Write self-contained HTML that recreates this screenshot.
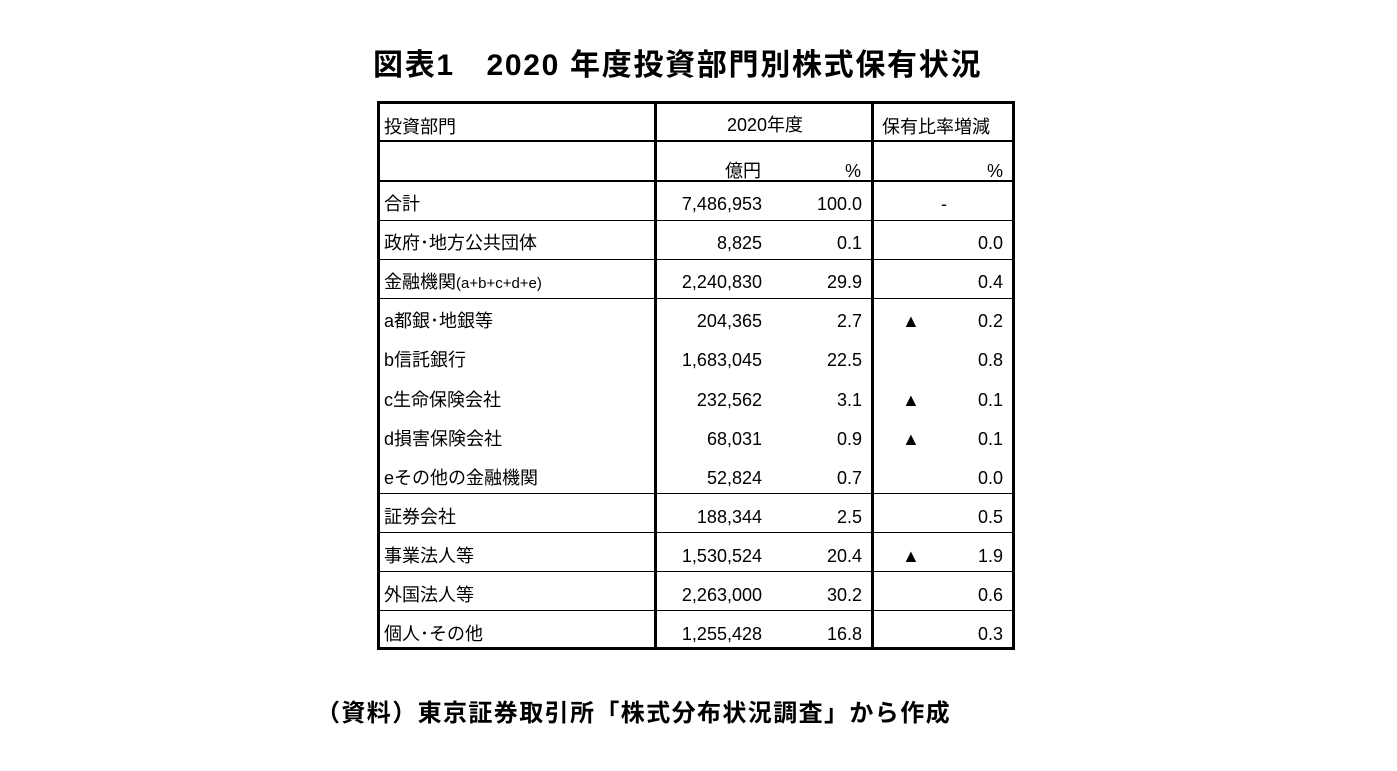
<!DOCTYPE html>
<html><head><meta charset="utf-8"><style>
body{margin:0;width:1397px;height:771px;background:#fff;position:relative;font-family:"Liberation Sans","Noto Sans CJK JP",sans-serif;color:#000;overflow:hidden}
.t{position:absolute;white-space:nowrap}
.h{position:absolute;background:#000}
.c{position:absolute;font-size:18px;white-space:nowrap;line-height:20px}
</style></head><body>
<div class="t" style="left:373px;top:40px;font-size:30px;font-weight:bold;letter-spacing:1.7px">図表1　2020 年度投資部門別株式保有状況</div>
<div class="t" style="left:316px;top:693px;font-size:24px;font-weight:bold;letter-spacing:1.4px">（資料）東京証券取引所「株式分布状況調査」から作成</div>

<div class="h" style="left:377px;top:101px;width:638px;height:3px"></div>
<div class="h" style="left:377px;top:647px;width:638px;height:3px"></div>
<div class="h" style="left:377px;top:101px;width:3px;height:549px"></div>
<div class="h" style="left:1012px;top:101px;width:3px;height:549px"></div>
<div class="h" style="left:654px;top:101px;width:3px;height:549px"></div>
<div class="h" style="left:871px;top:101px;width:3px;height:549px"></div>
<div class="h" style="left:377px;top:140px;width:638px;height:2px"></div>
<div class="h" style="left:377px;top:180px;width:638px;height:2px"></div>
<div class="h" style="left:377px;top:220px;width:638px;height:1px"></div>
<div class="h" style="left:377px;top:259px;width:638px;height:1px"></div>
<div class="h" style="left:377px;top:298px;width:638px;height:1px"></div>
<div class="h" style="left:377px;top:493px;width:638px;height:1px"></div>
<div class="h" style="left:377px;top:532px;width:638px;height:1px"></div>
<div class="h" style="left:377px;top:571px;width:638px;height:1px"></div>
<div class="h" style="left:377px;top:610px;width:638px;height:1px"></div>

<div class="c" style="left:384px;top:117px">投資部門</div>
<div class="c" style="left:727px;top:115px">2020年度</div>
<div class="c" style="left:882px;top:117px">保有比率増減</div>
<div class="c" style="left:725px;top:161px">億円</div>
<div class="c" style="right:536px;top:161px">%</div>
<div class="c" style="right:394px;top:161px">%</div>

<div id="rows"></div>
<script>
var d=[["合計","7,486,953","100.0","","-"],["政府･地方公共団体","8,825","0.1","","0.0"],["金融機関(a+b+c+d+e)","2,240,830","29.9","","0.4"],["a都銀･地銀等","204,365","2.7","▲","0.2"],["b信託銀行","1,683,045","22.5","","0.8"],["c生命保険会社","232,562","3.1","▲","0.1"],["d損害保険会社","68,031","0.9","▲","0.1"],["eその他の金融機関","52,824","0.7","","0.0"],["証券会社","188,344","2.5","","0.5"],["事業法人等","1,530,524","20.4","▲","1.9"],["外国法人等","2,263,000","30.2","","0.6"],["個人･その他","1,255,428","16.8","","0.3"]];
var h="";for(var i=0;i<d.length;i++){var y=194+i*39.1,r=d[i];
var lab=r[0].replace("(a+b+c+d+e)","<span style='font-size:15px'>(a+b+c+d+e)</span>");
h+="<div class='c' style='left:384px;top:"+y+"px'>"+lab+"</div>";
h+="<div class='c' style='right:635px;top:"+y+"px'>"+r[1]+"</div>";
h+="<div class='c' style='right:535px;top:"+y+"px'>"+r[2]+"</div>";
if(r[3])h+="<div class='c' style='left:902px;top:"+y+"px'>"+r[3]+"</div>";
if(r[4]=="-")h+="<div class='c' style='left:941px;top:"+y+"px'>-</div>";else h+="<div class='c' style='right:394px;top:"+y+"px'>"+r[4]+"</div>";}
document.getElementById("rows").innerHTML=h;
</script>
</body></html>
